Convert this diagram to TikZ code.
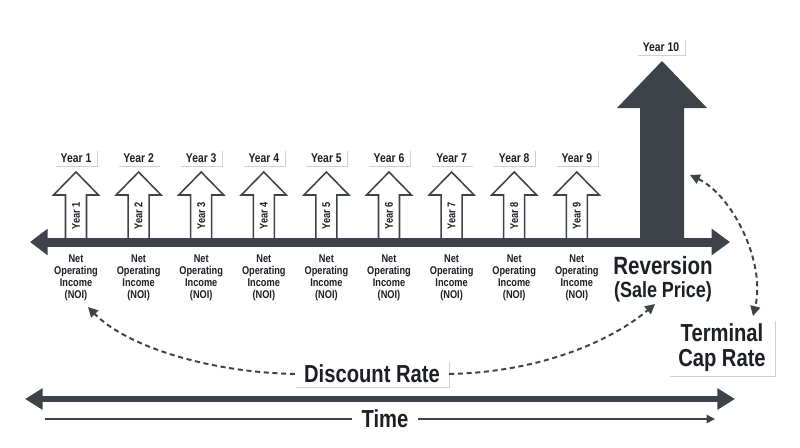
\documentclass[tikz,border=0pt]{standalone}
\usepackage{fontspec}
\newfontfamily\narrowfont{Liberation Sans}[FakeStretch=0.82]
\usetikzlibrary{arrows.meta, shadows}
\definecolor{slate}{RGB}{62,67,74}
\definecolor{inkdark}{RGB}{28,31,38}

\tikzset{
  boxshadow/.style={drop shadow={shadow xshift=0.6pt, shadow yshift=-0.8pt, fill=black, opacity=0.18}},
  yearlabel/.style={fill=white, boxshadow, text=inkdark, inner xsep=4pt, inner ysep=2.6pt,
    font=\narrowfont\bfseries\fontsize{9}{10}\selectfont},
  innerlabel/.style={rotate=90, text=inkdark, inner sep=0pt, font=\narrowfont\bfseries\fontsize{8}{9}\selectfont},
  noitext/.style={align=center, text=inkdark, inner sep=0pt, font=\narrowfont\bfseries\fontsize{8}{8.4}\selectfont},
  bigbox/.style={fill=white, boxshadow, text=inkdark, align=center, inner xsep=6.4pt, inner ysep=3pt,
    font=\narrowfont\bfseries\fontsize{17.5}{17.8}\selectfont},
  outlinearrow/.style={fill=white, draw=slate, line width=1.1pt, line join=miter},
  rate/.style={draw=slate, line width=1.4pt, dash pattern=on 3.6pt off 2.6pt, -{Triangle[length=7pt,width=7pt]}},
}

\begin{document}
\begin{tikzpicture}[x=0.025cm, y=-0.025cm]
\useasboundingbox[fill=white] (0,0) rectangle (800,447);

% Yearly cash flow arrows
\foreach \i in {1,...,9}{
  \pgfmathsetmacro\cx{76+(\i-1)*62.6}
  \draw[outlinearrow] (\cx-10.5,241) -- (\cx-10.5,195) -- (\cx-22.5,195) -- (\cx,172)
    -- (\cx+22.5,195) -- (\cx+10.5,195) -- (\cx+10.5,241) -- cycle;
  \node[innerlabel] (inyr\i) at (\cx,216) {Year \i};
  \node[yearlabel] (yr\i) at (\cx,158) {Year \i};
  \node[noitext] (noi\i) at (\cx,278) {Net\\Operating\\Income\\(NOI)};
}

% Reversion arrow
\fill[slate] (640,242) -- (640,108) -- (617,108) -- (662,61) -- (707,108) -- (684,108) -- (684,242) -- cycle;
\node[yearlabel] (yr10) at (661,47) {Year 10};

% Timeline
\coordinate (tl-l) at (30,242);
\coordinate (tl-r) at (730,242);
\draw[slate, line width=6.4pt, {Triangle[length=12.5pt,width=18pt]}-{Triangle[length=13pt,width=18pt]}] (tl-l) -- (tl-r);

\node[anchor=base, text=inkdark, inner sep=0pt, text depth=0pt, font=\narrowfont\bfseries\fontsize{17.8}{18}\selectfont] (rev) at (663,274) {Reversion};
\node[anchor=base, text=inkdark, inner sep=0pt, font=\narrowfont\bfseries\fontsize{15.6}{16}\selectfont] (sale) at (663,297) {(Sale Price)};

% Rates
\node[bigbox] (disc) at (372,374) {Discount Rate};
\node[bigbox] (term) at (722,348) {Terminal\\Cap Rate};

\coordinate (noi-tip) at (88,307);
\coordinate (rev-tip) at (655,304);
\coordinate (big-tip) at (690,175);
\coordinate (cap-tip) at (753,316);
\draw[rate] (disc.west) .. controls (205,372) and (125,345) .. (noi-tip);
\draw[rate] (disc.east) .. controls (545,372) and (615,338) .. (rev-tip);
\draw[rate, {Triangle[length=7pt,width=7pt]}-{Triangle[length=7pt,width=7pt]}] (big-tip) .. controls (732,195) and (766,262) .. (cap-tip);

% Time axis
\coordinate (tb-l) at (25,399);
\coordinate (tb-r) at (735,399);
\draw[slate, line width=4.6pt, {Triangle[length=12.5pt,width=14.5pt]}-{Triangle[length=12.5pt,width=14.5pt]}] (tb-l) -- (tb-r);

\node[text=inkdark, inner xsep=6.5pt, inner ysep=0pt, font=\narrowfont\bfseries\fontsize{17.5}{18}\selectfont] (time) at (385,419) {Time};
\coordinate (time-l) at (45,419);
\coordinate (time-r) at (715,419);
\draw[slate, line width=1pt] (time-l) -- (time.west);
\draw[slate, line width=1pt, -{Triangle[length=6pt,width=6pt]}] (time.east) -- (time-r);
\end{tikzpicture}
\end{document}
